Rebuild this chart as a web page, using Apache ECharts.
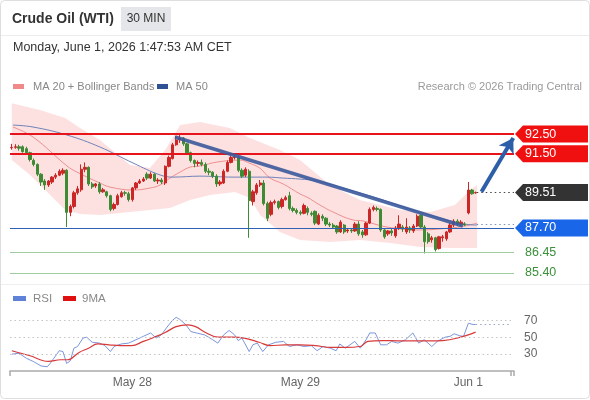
<!DOCTYPE html>
<html><head><meta charset="utf-8">
<script src="https://cdn.jsdelivr.net/npm/echarts@6/dist/echarts.min.js"></script>
<style>html,body{margin:0;padding:0;background:#fff}#c{width:590px;height:400px}</style>
</head><body><div id="c"></div>
<script>
// ---- DATA ----
// candles: [open, close, low, high], 30-minute bars
const candles = [
[91.80,91.82,91.70,92.00],[91.82,91.85,91.75,91.98],[91.85,91.78,91.65,91.95],[91.85,91.60,91.55,91.92],
[91.75,91.55,91.45,91.85],[91.55,91.20,91.10,91.60],[91.15,90.95,90.85,91.25],[90.95,90.45,90.35,91.00],
[90.45,90.05,89.85,90.50],[90.10,89.90,89.65,90.20],[89.90,90.10,89.80,90.15],[90.05,90.30,89.95,90.35],
[90.30,90.40,90.20,90.50],[90.40,90.60,90.35,90.70],[90.50,90.65,90.40,90.75],[90.65,88.50,87.75,90.70],
[88.50,88.80,88.30,88.90],[88.80,89.50,88.70,89.60],[89.50,89.70,89.40,89.85],[89.65,90.70,89.55,90.95],
[90.70,90.80,90.55,91.05],[90.80,89.95,89.85,90.85],[89.95,89.80,89.70,90.05],[89.85,89.95,89.75,90.00],
[89.95,89.55,89.45,90.05],[89.55,89.65,89.50,89.75],[89.55,89.35,89.25,89.60],[89.35,88.65,88.55,89.40],
[88.70,88.90,88.60,89.00],[88.90,89.35,88.85,89.45],[89.30,89.50,89.25,89.60],[89.50,89.48,89.35,89.60],
[89.45,89.15,89.05,89.55],[89.15,89.75,89.05,89.80],[89.75,90.00,89.65,90.05],[90.00,90.10,89.95,90.20],
[90.10,90.20,90.05,90.30],[90.45,90.25,90.15,90.55],[90.25,90.45,90.20,90.55],[90.45,90.10,90.05,90.50],
[90.10,90.15,89.95,90.25],[90.15,90.05,89.95,90.25],[90.00,90.85,89.90,90.90],[90.85,91.30,90.80,91.40],
[91.25,91.95,91.20,92.05],[91.95,92.20,91.90,92.40],[92.20,92.30,92.05,92.45],[92.30,92.00,91.90,92.35],
[92.00,91.55,91.45,92.05],[91.55,91.15,91.05,91.60],[91.15,91.00,90.80,91.20],[91.00,91.05,90.85,91.15],
[91.05,90.95,90.85,91.20],[90.95,90.60,90.50,91.05],[90.60,90.55,90.40,90.75],[90.55,90.35,90.25,90.60],
[90.35,89.95,89.80,90.45],[89.95,90.05,89.85,90.15],[90.00,90.60,89.95,90.70],[90.60,91.05,90.55,91.15],
[91.05,91.30,91.00,91.40],[91.30,91.35,91.20,91.45],[91.30,90.65,90.55,91.35],[90.65,90.35,90.25,90.75],
[90.40,90.70,90.30,90.80],[90.60,89.10,87.20,90.70],[89.05,89.55,88.85,89.65],[89.50,89.90,89.40,90.00],
[89.90,90.00,89.80,90.15],[90.00,88.95,88.85,90.15],[88.95,88.20,88.05,89.05],[88.40,89.00,88.30,89.10],
[89.00,89.05,88.90,89.15],[89.05,88.75,88.65,89.10],[88.80,89.15,88.70,89.25],[89.15,89.25,89.10,89.35],
[89.35,88.70,88.60,89.55],[88.70,88.60,88.50,88.80],[88.60,88.50,88.40,88.70],[88.50,88.45,88.35,88.60],
[88.45,88.85,88.40,88.95],[88.70,88.50,88.35,88.80],[88.45,88.40,88.30,88.55],[88.55,87.95,87.85,88.60],
[87.90,88.35,87.85,88.45],[88.30,88.20,88.05,88.40],[88.20,87.90,87.80,88.25],[87.90,87.85,87.75,88.00],
[87.85,87.75,87.65,87.95],[87.80,87.50,87.40,87.85],[87.50,88.00,87.45,88.10],[87.85,87.50,87.40,87.90],
[87.55,87.60,87.45,87.70],[87.60,87.55,87.45,87.70],[87.55,87.90,87.50,88.00],[87.90,87.40,87.30,88.05],
[87.50,87.35,87.20,87.60],[87.35,87.95,87.30,88.00],[87.95,88.65,87.90,88.75],[88.65,88.75,88.55,88.85],
[88.70,88.65,88.55,88.80],[88.65,87.60,87.50,88.70],[87.60,87.25,87.15,87.70],[87.40,87.55,87.30,87.60],
[87.55,87.45,87.30,87.65],[87.30,87.70,87.20,87.80],[87.70,87.90,87.60,88.35],[87.75,87.65,87.50,87.85],
[87.50,87.75,87.40,88.20],[87.70,87.60,87.45,87.80],[87.55,87.80,87.45,87.90],[87.80,88.30,87.75,88.40],
[88.35,87.75,87.65,88.40],[87.75,87.00,86.40,87.85],[87.40,87.00,86.90,87.50],[87.10,87.20,86.95,87.30],
[87.20,86.60,86.50,87.25],[86.65,87.25,86.60,87.30],[87.20,87.25,87.00,87.35],[87.15,87.50,87.05,87.55],
[87.50,87.85,87.45,87.95],[87.85,88.05,87.75,88.15],[88.05,87.90,87.80,88.15],[87.90,88.00,87.80,88.10],
[87.90,87.85,87.80,88.00],[88.47,89.64,88.40,90.05],[89.64,89.45,89.40,89.70],[89.50,89.51,89.45,89.56]
];
const slotCount = 138;                 // category slots on the time axis (incl. empty right margin)
const xTickIdx = [33, 79, 125];
const xTickLabels = ['May 28', 'May 29', 'Jun 1'];

// indicator lines: [barIndex, price]
const ma20 = [[0.3,92.86],[5.8,92.35],[15.1,90.87],[17.8,90.56],[24.1,90.00],[26.9,89.79],[33.2,89.64],[37.8,89.74],[40.6,89.90],[43.3,90.25],[46.1,90.56],[48.8,90.81],[51.5,90.87],[56.2,91.07],[62.5,91.17],[65.2,91.00],[67.9,90.76],[70.7,90.25],[74.3,89.95],[78.9,89.44],[80.8,89.28],[84.4,88.87],[87.9,88.52],[93.4,88.11],[96.2,88.06],[102.7,87.75],[111.8,87.60],[120,87.70],[124.1,87.80],[127.4,87.95]];
const ma50 = [[0.3,92.96],[5.8,92.86],[15.1,92.45],[24.1,91.84],[33.2,91.02],[40.6,90.41],[44.1,90.30],[51.5,90.35],[60.6,90.30],[69.9,90.30],[74.3,90.25],[78.9,90.20],[83.6,90.10],[92.6,89.64],[100.8,89.18],[109.0,88.67],[117.2,88.21],[124.1,87.90],[127.4,87.85]];
const bbUpper = [[0,94.08],[7.7,93.73],[14.6,93.32],[18.7,92.81],[24.1,92.19],[32.4,90.92],[37.8,90.76],[42,91.68],[46.1,92.96],[51.5,93.12],[59.7,92.81],[65.2,92.30],[73.4,91.68],[78.9,91.17],[87.1,89.90],[95.3,89.13],[100.8,88.87],[106.3,88.62],[114.5,88.52],[121.3,88.87],[125.5,89.64],[127.4,89.90]];
const bbLower = [[0,91.17],[5,90.41],[10.5,89.38],[14.6,88.62],[18.7,88.41],[24.1,88.36],[32.4,88.52],[37.8,88.62],[43.3,88.72],[48.8,89.13],[54.3,89.38],[61.1,89.54],[65.2,89.23],[68,88.36],[73.4,87.49],[78.9,87.09],[87.1,86.98],[95.3,87.09],[103.6,86.93],[111.8,86.73],[120,86.68],[127.4,86.68]];

const levels = [92.50, 91.50, 87.70, 86.45, 85.40];
const lastPrice = 89.51;
const lastMa50 = 87.88;
const trendLine = [[44.7, 92.35], [123.5, 87.80]];
const arrowLine = [[128.6, 89.55], [137.3, 92.30]];

// RSI pane: [barIndex, value]
const rsi = [[0,30],[2,31],[4,25],[6,21],[8,16],[9.7,15],[10.5,19],[11.5,25],[13,34],[14,33],[15,19],[16,22],[17,37],[18,39],[19.5,49],[20.5,50],[22,44],[24,43],[25.5,40],[27,33],[28,39],[30,42],[32,43],[34,47],[36,51],[38,55],[39.5,49],[41,53],[42.5,62],[44,70],[45,73.5],[46,71],[47.7,64.5],[49,56.7],[50.8,54.7],[52.8,52.7],[55,47],[56.4,43],[58,52.7],[59.5,58],[61,52.7],[62,46],[63,49],[65,33],[66,41],[67.2,43],[68.7,33],[70.3,41],[72.3,44],[74.4,45],[76,39],[78,41],[80,39],[82,40],[83.6,34],[85.2,39],[87.2,37],[88.8,34],[89.8,42],[91.3,37],[93.9,45],[95.4,37],[97,47],[98,55],[99.5,55],[101,41],[102.6,41],[104,45],[105.7,43],[107.8,47],[109.8,55],[111.4,43],[112.9,47],[115,39],[116.5,45],[118.6,50],[120,51],[121.1,54],[122.7,51.6],[123.7,51],[125,66.5],[126.3,65],[127,65]];
const rsiMa = [[0,34],[5,28],[10,21.4],[13.3,23.3],[15.3,23.3],[18.4,32],[21,37],[23.5,42],[26.6,41],[29.7,40],[32.8,40],[36,45],[39,50],[42,55.5],[45,62.5],[48.2,64.5],[50.3,62.5],[53.3,55],[56.4,50],[60.5,50],[63.6,49],[67.7,44],[70.8,40],[74.9,41],[79,41],[83.1,40],[87.2,38],[91.3,38],[95.4,39],[97.5,45],[101.6,46],[105.7,45.7],[109.8,45.7],[114,45.7],[118,46],[122.1,49],[127,56]];
const rsiLevels = [30, 50, 70];
const rsiLast = 65;

// ---- CHART ----
const FONT = 'Liberation Sans, Arial, sans-serif';
const categories = [];
for (let i = 0; i < slotCount; i++) {
  const k = xTickIdx.indexOf(i);
  categories.push(k >= 0 ? xTickLabels[k] : '');
}
const lastIdx = candles.length - 1;
const xMax = slotCount - 0.5;

const tags = [
  {v: levels[0], bg: '#f01010', fg: '#fff'},
  {v: levels[1], bg: '#f01010', fg: '#fff'},
  {v: lastPrice, bg: '#333333', fg: '#fff'},
  {v: levels[2], bg: '#1a66e8', fg: '#fff'},
  {v: levels[3], bg: null, fg: '#3a8f3a'},
  {v: levels[4], bg: null, fg: '#3a8f3a'}
];

const chart = echarts.init(document.getElementById('c'), null, {renderer: 'canvas'});
chart.setOption({
  animation: false,
  backgroundColor: '#fff',
  textStyle: {fontFamily: FONT},
  grid: [
    {left: 10, right: 76, top: 100, height: 183},
    {left: 10, right: 76, top: 300, height: 71}
  ],
  xAxis: [
    {type: 'category', gridIndex: 0, data: categories, boundaryGap: true, show: false},
    {type: 'value', gridIndex: 0, min: -0.5, max: xMax, show: false},
    {type: 'category', gridIndex: 1, data: categories, boundaryGap: true,
     axisLine: {lineStyle: {color: '#aaa', width: 1.5}},
     axisTick: {show: true, length: 5, lineStyle: {color: '#aaa', width: 1.5},
                interval: (i) => i === 0 || i === slotCount - 1},
     axisLabel: {interval: (i, v) => v !== '', color: '#666', fontSize: 12, margin: 6, fontFamily: FONT},
     splitLine: {show: false}},
    {type: 'value', gridIndex: 1, min: -0.5, max: xMax, show: false}
  ],
  yAxis: [
    {type: 'value', gridIndex: 0, min: 84.89, max: 94.24, show: false, scale: true},
    {type: 'value', gridIndex: 1, min: 10, max: 94, interval: 10, position: 'right',
     axisLine: {show: false}, axisTick: {show: false}, splitLine: {show: false},
     axisLabel: {margin: 10, color: '#666', fontSize: 12, fontFamily: FONT,
                 formatter: (v) => rsiLevels.indexOf(v) >= 0 ? String(v) : ''}}
  ],
  series: [
    { // Bollinger band fill
      type: 'custom', xAxisIndex: 1, yAxisIndex: 0, data: [[0, 90]], silent: true, z: 1, clip: true,
      renderItem: (params, api) => {
        const up = bbUpper.map(p => api.coord(p));
        const lo = bbLower.map(p => api.coord(p)).reverse();
        return {type: 'polygon', shape: {points: up.concat(lo)},
                style: {fill: 'rgba(244,120,120,0.22)'}};
      }
    },
    { // MA 20
      type: 'line', xAxisIndex: 1, yAxisIndex: 0, data: ma20, smooth: 0.4, showSymbol: false,
      lineStyle: {color: '#ee8f8f', width: 1}, z: 2, silent: true
    },
    { // MA 50 + annotations
      type: 'line', xAxisIndex: 1, yAxisIndex: 0, data: ma50, smooth: 0.4, showSymbol: false,
      lineStyle: {color: '#6f82b8', width: 1}, z: 3, silent: true,
      markLine: {
        silent: true, symbol: 'none', label: {show: false}, animation: false,
        data: [
          {yAxis: levels[0], lineStyle: {color: '#e8141c', width: 2, type: 'solid'}},
          {yAxis: levels[1], lineStyle: {color: '#e8141c', width: 2, type: 'solid'}},
          {yAxis: levels[2], lineStyle: {color: '#2f62b5', width: 1, type: 'solid'}},
          {yAxis: levels[3], lineStyle: {color: '#9fcc9f', width: 1, type: 'solid'}},
          {yAxis: levels[4], lineStyle: {color: '#9fcc9f', width: 1, type: 'solid'}},
          [{coord: [lastIdx + 0.3, lastPrice], lineStyle: {color: '#444', width: 1, type: [1.5, 3]}},
           {coord: [xMax, lastPrice]}],
          [{coord: [lastIdx + 0.3, lastMa50], lineStyle: {color: '#7f8fb8', width: 1, type: [1.5, 3]}},
           {coord: [xMax, lastMa50]}],
          [{coord: trendLine[0], lineStyle: {color: '#3b5a9c', width: 3.5, type: 'solid', opacity: 0.9}},
           {coord: trendLine[1]}]
        ]
      }
    },
    { // candles
      type: 'candlestick', xAxisIndex: 0, yAxisIndex: 0, data: candles, barWidth: 2.8, z: 4, silent: true,
      itemStyle: {color: '#cc2727', color0: '#3f8a34', borderColor: '#cc2727', borderColor0: '#3f8a34', borderWidth: 1}
    },
    { // arrow
      type: 'line', xAxisIndex: 1, yAxisIndex: 0, data: [], z: 5, silent: true,
      markLine: {
        silent: true, label: {show: false}, animation: false,
        data: [[{coord: arrowLine[0], symbol: 'none', lineStyle: {color: '#2d5fa8', width: 4, type: 'solid'}},
                {coord: arrowLine[1], symbol: 'arrow', symbolSize: [13, 14]}]]
      }
    },
    { // right-hand price tags
      type: 'custom', xAxisIndex: 1, yAxisIndex: 0, data: tags.map((t, i) => [xMax, t.v, i]), z: 6, clip: false, silent: true,
      renderItem: (params, api) => {
        const t = tags[api.value(2)];
        const p = api.coord([api.value(0), api.value(1)]);
        const x = p[0] + 1, y = p[1], h = 8.5;
        const label = t.v.toFixed(2);
        const children = [];
        if (t.bg) {
          children.push({type: 'polygon', shape: {points: [[x, y], [x + 8, y - h], [x + 73, y - h], [x + 73, y + h], [x + 8, y + h]]},
                         style: {fill: t.bg}});
        }
        children.push({type: 'text', style: {text: label, x: x + 10, y: y, fill: t.fg, font: '12.5px ' + FONT, verticalAlign: 'middle', align: 'left'}});
        return {type: 'group', children: children};
      }
    },
    { // RSI
      type: 'line', xAxisIndex: 3, yAxisIndex: 1, data: rsi, showSymbol: false, silent: true,
      lineStyle: {color: '#7c96dc', width: 1}, z: 3,
      markLine: {
        silent: true, symbol: 'none', label: {show: false}, animation: false,
        data: rsiLevels.map(v => ({yAxis: v, lineStyle: {color: '#c4c4c4', width: 1, type: [1.5, 3]}}))
          .concat([[{coord: [lastIdx, rsiLast], lineStyle: {color: '#9aa6c8', width: 1, type: [1.5, 3]}}, {coord: [xMax - 1, rsiLast]}]])
      }
    },
    { // RSI 9MA
      type: 'line', xAxisIndex: 3, yAxisIndex: 1, data: rsiMa, smooth: 0.4, showSymbol: false, silent: true,
      lineStyle: {color: '#d83a3a', width: 1.2}, z: 4
    }
  ],
  graphic: [
    {type: 'rect', shape: {x: 0.5, y: 0.5, width: 589, height: 398, r: 4}, style: {fill: 'none', stroke: '#dedede'}, silent: true},
    {type: 'line', shape: {x1: 1, y1: 35.5, x2: 589, y2: 35.5}, style: {stroke: '#ececec'}, silent: true},
    {type: 'text', style: {text: 'Crude Oil (WTI)', x: 12, y: 19, font: 'bold 14px ' + FONT, fill: '#333', verticalAlign: 'middle'}},
    {type: 'rect', shape: {x: 121, y: 7, width: 50, height: 24}, style: {fill: '#e4e6e9'}},
    {type: 'text', style: {text: '30 MIN', x: 146, y: 19, font: '12px ' + FONT, fill: '#333', align: 'center', verticalAlign: 'middle'}},
    {type: 'text', style: {text: 'Monday, June 1, 2026 1:47:53 AM CET', x: 13, y: 48, font: '12.5px ' + FONT, fill: '#333', verticalAlign: 'middle'}},
    {type: 'rect', shape: {x: 13, y: 84, width: 11, height: 5}, style: {fill: '#f08a8a'}},
    {type: 'text', style: {text: 'MA 20 + Bollinger Bands', x: 33, y: 86.5, font: '11px ' + FONT, fill: '#888', verticalAlign: 'middle'}},
    {type: 'rect', shape: {x: 157, y: 84, width: 11, height: 5}, style: {fill: '#2e5293'}},
    {type: 'text', style: {text: 'MA 50', x: 176, y: 86.5, font: '11px ' + FONT, fill: '#888', verticalAlign: 'middle'}},
    {type: 'text', style: {text: 'Research \u00a9 2026 Trading Central', x: 582, y: 86.5, font: '11px ' + FONT, fill: '#9a9a9a', align: 'right', verticalAlign: 'middle'}},
    {type: 'line', shape: {x1: 1, y1: 284.5, x2: 589, y2: 284.5}, style: {stroke: '#eeeeee'}, silent: true},
    {type: 'rect', shape: {x: 13, y: 296, width: 13, height: 5}, style: {fill: '#5f82d8'}},
    {type: 'text', style: {text: 'RSI', x: 33, y: 298.5, font: '11.5px ' + FONT, fill: '#888', verticalAlign: 'middle'}},
    {type: 'rect', shape: {x: 63, y: 296, width: 13, height: 5}, style: {fill: '#e01010'}},
    {type: 'text', style: {text: '9MA', x: 82, y: 298.5, font: '11.5px ' + FONT, fill: '#888', verticalAlign: 'middle'}}
  ]
});
</script>
</body></html>
